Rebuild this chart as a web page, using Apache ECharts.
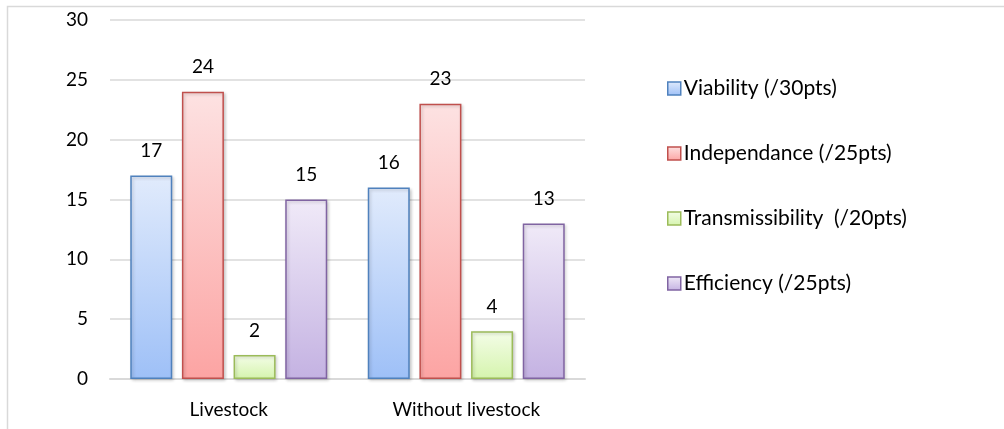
<!DOCTYPE html>
<html>
<head>
<meta charset="utf-8">
<script src="https://cdn.jsdelivr.net/npm/echarts@6/dist/echarts.min.js"></script>
<style>
  html, body { margin: 0; padding: 0; background: #fff; }
  #chart { width: 1004px; height: 429px; }
</style>
</head>
<body>
<div id="chart"></div>
<script>
// Scenario categories
const categories = ['Livestock', 'Without livestock'];

// Scores per criterion
const viability = [17, 16];
const independance = [24, 23];
const transmissibility = [2, 4];
const efficiency = [15, 13];

// Series names
const seriesNames = [
  'Viability (/30pts)',
  'Independance (/25pts)',
  'Transmissibility  (/20pts)',
  'Efficiency (/25pts)'
];

// Y axis ticks
const yTicks = [0, 5, 10, 15, 20, 25, 30];

const FONT = 'Lato, "Open Sans", sans-serif';

function grad(top, bottom) {
  return new echarts.graphic.LinearGradient(0, 0, 0, 1, [
    { offset: 0, color: top },
    { offset: 1, color: bottom }
  ]);
}

const styles = [
  { top: '#e1ebfc', bottom: '#9ec0f7', border: '#4f81bd' },
  { top: '#fde2e2', bottom: '#fca4a3', border: '#c0504d' },
  { top: '#f4fde8', bottom: '#d5f4ad', border: '#9bbb59' },
  { top: '#f0eaf8', bottom: '#c4b2e2', border: '#8064a2' }
];

const values = [viability, independance, transmissibility, efficiency];

const series = values.map((data, i) => ({
  name: seriesNames[i],
  type: 'bar',
  data: data,
  barWidth: 42,
  barGap: '23%',
  itemStyle: {
    color: grad(styles[i].top, styles[i].bottom),
    borderColor: styles[i].border,
    borderWidth: 1.5,
    shadowColor: 'rgba(0,0,0,0.18)',
    shadowBlur: 3,
    shadowOffsetX: 1.5,
    shadowOffsetY: 1.5
  },
  label: {
    show: true,
    position: 'top',
    distance: 15,
    color: '#000',
    fontFamily: FONT,
    fontSize: 19
  },
  emphasis: { disabled: true }
}));

const chart = echarts.init(document.getElementById('chart'), null, { renderer: 'canvas' });

chart.setOption({
  animation: false,
  backgroundColor: '#fff',
  graphic: [{
    type: 'rect',
    shape: { x: 7.5, y: 6.5, width: 1100, height: 500 },
    style: { fill: 'none', stroke: '#d9d9d9', lineWidth: 1.5 },
    silent: true,
    z: -10
  }],
  grid: { left: 110, right: 419, top: 20, bottom: 50 },
  legend: {
    orient: 'vertical',
    left: 662,
    top: 73,
    itemWidth: 13,
    itemHeight: 13,
    itemGap: 44,
    icon: 'rect',
    textStyle: { fontFamily: FONT, fontSize: 21, color: '#000', padding: [0, 0, 0, -2] },
    data: seriesNames.map((n, i) => ({
      name: n,
      itemStyle: {
        color: grad(styles[i].top, styles[i].bottom),
        borderColor: styles[i].border,
        borderWidth: 1.5
      }
    }))
  },
  xAxis: {
    type: 'category',
    data: categories,
    axisLine: { show: true, lineStyle: { color: '#d9d9d9', width: 2 } },
    axisTick: { show: false },
    axisLabel: { color: '#000', fontFamily: FONT, fontSize: 19, margin: 21 }
  },
  yAxis: {
    type: 'value',
    min: yTicks[0],
    max: yTicks[yTicks.length - 1],
    interval: yTicks[1] - yTicks[0],
    axisLine: { show: false },
    axisTick: { show: false },
    axisLabel: { color: '#000', fontFamily: FONT, fontSize: 19, margin: 22 },
    splitLine: { lineStyle: { color: '#d9d9d9', width: 1.5 } }
  },
  series: series
});
</script>
</body>
</html>
